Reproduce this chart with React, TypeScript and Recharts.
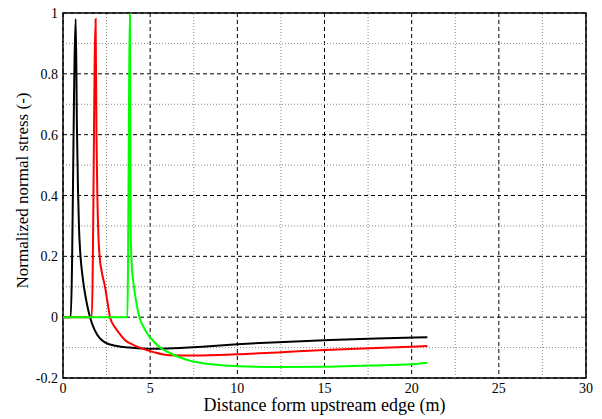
import {
  LineChart,
  Line,
  XAxis,
  YAxis,
  CartesianGrid,
  ReferenceLine,
  ReferenceArea,
} from "recharts";

// drop the default 8px body margin without a style tag
if (typeof document !== "undefined") document.body.style.margin = "0";

// Series values: [distance, normalized stress]
const blackX = [0, 0.44, 0.73, 0.8, 0.86, 0.92, 0.98, 1.05, 1.12, 1.2, 1.35, 1.55, 1.8, 2.12, 2.4, 2.7, 3.3, 3.84, 5, 6, 8, 10, 12, 15, 18, 20.9];
const blackY = [0, 0, 0.98, 0.62, 0.42, 0.29, 0.22, 0.17, 0.135, 0.1, 0.05, 0, -0.04, -0.07, -0.083, -0.09, -0.097, -0.1, -0.104, -0.103, -0.097, -0.089, -0.083, -0.076, -0.07, -0.066];

const redX = [0, 1.65, 1.87, 1.92, 1.97, 2.03, 2.1, 2.22, 2.41, 2.55, 2.7, 3.0, 3.3, 3.56, 4.0, 4.4, 5.2, 6.1, 7.5, 10, 12.5, 15, 18, 20.9];
const redY = [0, 0, 0.98, 0.6, 0.4, 0.27, 0.2, 0.15, 0.1, 0.05, 0, -0.035, -0.058, -0.076, -0.09, -0.1, -0.115, -0.125, -0.126, -0.122, -0.115, -0.108, -0.101, -0.095];

const greenX = [0, 3.69, 3.84, 3.86, 3.88, 3.92, 3.97, 4.07, 4.2, 4.38, 4.6, 4.84, 5.2, 5.57, 6.1, 6.6, 7.3, 8.5, 10, 12.5, 15, 17.5, 20, 20.9];
const greenY = [0, 0, 0.996, 0.6, 0.29, 0.2, 0.15, 0.1, 0.05, 0, -0.03, -0.054, -0.08, -0.1, -0.117, -0.13, -0.143, -0.155, -0.161, -0.164, -0.163, -0.159, -0.155, -0.15];

const xTicks = [0, 5, 10, 15, 20, 25, 30];
const yTicks = [-0.2, 0, 0.2, 0.4, 0.6, 0.8, 1];
const xMinor = [2.5, 7.5, 12.5, 17.5, 22.5, 27.5];
const yMinor = [-0.1, 0.1, 0.3, 0.5, 0.7, 0.9];

const xTitle = "Distance form upstream edge (m)";
const yTitle = "Normalized normal stress (-)";

const toRows = (xs: number[], ys: number[]) => xs.map((x, i) => ({ x, y: ys[i] }));

const series = [
  { name: "black", color: "#000000", rows: toRows(blackX, blackY) },
  { name: "red", color: "#ff0000", rows: toRows(redX, redY) },
  { name: "green", color: "#00ff00", rows: toRows(greenX, greenY) },
];

const FONT = "Liberation Serif";

// plain svg text so the serif font is kept
const XTick = (p: any) => (
  <text x={p.x} y={p.y} dy={10} textAnchor="middle" fontFamily={FONT} fontSize={14} fill="#000">
    {p.payload.value}
  </text>
);

const YTick = (p: any) => (
  <text x={p.x} y={p.y} dy={5} textAnchor="end" fontFamily={FONT} fontSize={14} fill="#000">
    {p.payload.value}
  </text>
);

const XTitle = (p: any) => {
  const vb = p.viewBox;
  return (
    <text x={vb.x + vb.width / 2} y={vb.y + 33} textAnchor="middle" fontFamily={FONT} fontSize={18} fill="#000">
      {xTitle}
    </text>
  );
};

const YTitle = (p: any) => {
  const vb = p.viewBox;
  const cx = vb.x + 28;
  const cy = vb.y + vb.height / 2 - 5;
  return (
    <text x={cx} y={cy} transform={`rotate(-90, ${cx}, ${cy})`} textAnchor="middle" fontFamily={FONT} fontSize={17} fill="#000">
      {yTitle}
    </text>
  );
};

export default function App() {
  return (
    <div style={{ width: 602, height: 419, background: "#fff" }}>
      <LineChart
        width={602}
        height={419}
        margin={{ top: 13, right: 16, bottom: 0, left: 0 }}
      >
        <CartesianGrid stroke="#000" strokeDasharray="4 3" />
        {xMinor.map((v) => (
          <ReferenceLine key={`vx${v}`} x={v} stroke="#888" strokeDasharray="1 2" />
        ))}
        {yMinor.map((v) => (
          <ReferenceLine key={`hy${v}`} y={v} stroke="#888" strokeDasharray="1 2" />
        ))}
        <XAxis
          dataKey="x"
          type="number"
          domain={[0, 30]}
          ticks={xTicks}
          allowDuplicatedCategory={false}
          height={41}
          axisLine={false}
          tickLine={false}
          tickSize={0}
          tickMargin={5}
          tick={XTick}
          label={{ content: XTitle }}
        />
        <YAxis
          type="number"
          domain={[-0.2, 1]}
          ticks={yTicks}
          width={63}
          axisLine={false}
          tickLine={false}
          tickSize={0}
          tickMargin={5}
          tick={YTick}
          label={{ content: YTitle }}
        />
        {series.map((s) => (
          <Line
            key={s.name}
            data={s.rows}
            dataKey="y"
            type="monotone"
            stroke={s.color}
            strokeWidth={2}
            dot={false}
            isAnimationActive={false}
          />
        ))}
        <ReferenceArea
          x1={0}
          x2={30}
          y1={-0.2}
          y2={1}
          fill="none"
          stroke="#000"
          strokeWidth={1.5}
        />
      </LineChart>
    </div>
  );
}
